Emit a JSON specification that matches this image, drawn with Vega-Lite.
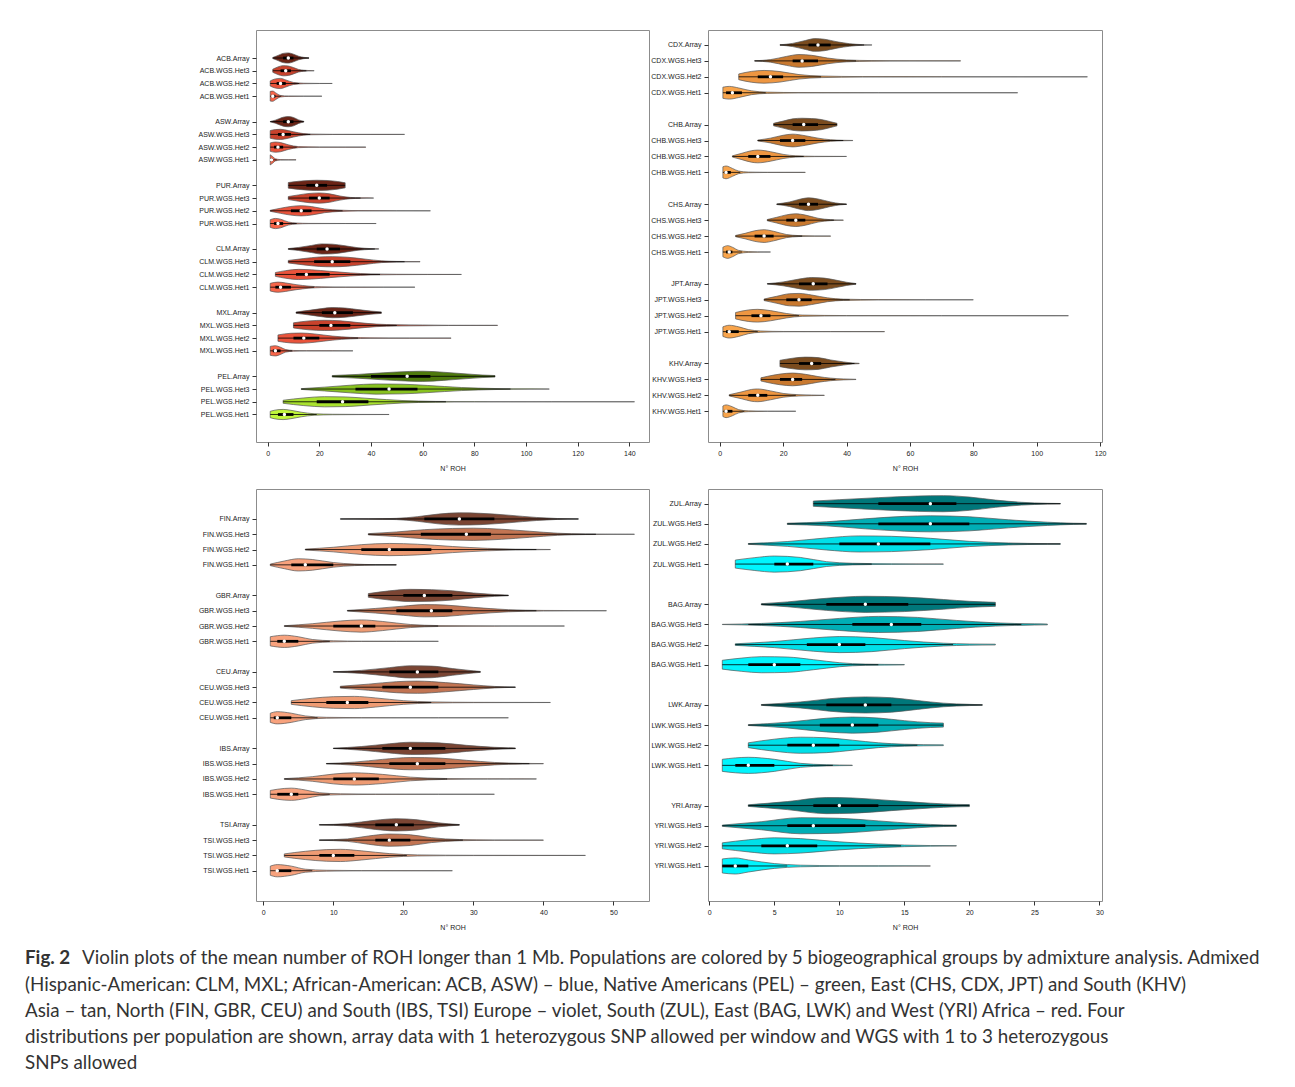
{
"$schema":"https://vega.github.io/schema/vega-lite/v6.json",
"padding":{"left":25,"top":29,"right":5,"bottom":5},
"background":"white",
"config":{"view":{"stroke":"#8c8c8c","strokeWidth":1},
"axis":{"labelFont":"Liberation Sans","labelFontSize":7,"labelColor":"#222","tickColor":"#333","tickSize":4,"domain":false,"grid":false,"titleFont":"Liberation Sans","titleFontSize":7,"titleFontWeight":"normal","titleColor":"#222","labelOverlap":false},
"axisX":{"labelPadding":3,"titlePadding":8},
"axisY":{"labelPadding":3,"labelOverlap":false,"tickCount":100}},
"title":{"text":"Fig. 2","subtitle":["\u200b\u00a0\u00a0\u00a0\u00a0\u00a0\u00a0\u00a0\u00a0\u00a0\u00a0\u00a0\u00a0Violin plots of the mean number of ROH longer than 1 Mb. Populations are colored by 5 biogeographical groups by admixture analysis. Admixed","(Hispanic-American: CLM, MXL; African-American: ACB, ASW) – blue, Native Americans (PEL) – green, East (CHS, CDX, JPT) and South (KHV)","Asia – tan, North (FIN, GBR, CEU) and South (IBS, TSI) Europe – violet, South (ZUL), East (BAG, LWK) and West (YRI) Africa – red. Four","distributions per population are shown, array data with 1 heterozygous SNP allowed per window and WGS with 1 to 3 heterozygous","SNPs allowed"],
"orient":"bottom","anchor":"start","frame":"group","offset":18,"dx":-231,"font":"Lato","fontSize":18.8,"fontWeight":"bold","color":"#333","subtitleFont":"Lato","subtitleFontSize":18.8,"subtitleFontWeight":"normal","subtitleColor":"#333","subtitleLineHeight":26.3,"subtitlePadding":-18},
"datasets":{
"st":[
{"v":"ACB.Array","p":1,"s":0,"c":"Adm Array","wl":2,"q1":6,"md":8,"q3":10,"wh":16},
{"v":"ACB.WGS.Het3","p":1,"s":1,"c":"Adm Het3","wl":2,"q1":5,"md":7,"q3":9,"wh":15},
{"v":"ACB.WGS.Het2","p":1,"s":2,"c":"Adm Het2","wl":1,"q1":3.5,"md":5,"q3":7,"wh":12.25},
{"v":"ACB.WGS.Het1","p":1,"s":3,"c":"Adm Het1","wl":1,"q1":1.5,"md":2,"q3":3,"wh":5.25},
{"v":"ASW.Array","p":1,"s":5,"c":"Adm Array","wl":1,"q1":6,"md":8,"q3":10,"wh":14},
{"v":"ASW.WGS.Het3","p":1,"s":6,"c":"Adm Het3","wl":1,"q1":4,"md":6,"q3":9,"wh":16.5},
{"v":"ASW.WGS.Het2","p":1,"s":7,"c":"Adm Het2","wl":1,"q1":2.5,"md":4,"q3":6,"wh":11.25},
{"v":"ASW.WGS.Het1","p":1,"s":8,"c":"Adm Het1","wl":1,"q1":1,"md":1.5,"q3":2,"wh":3.5},
{"v":"PUR.Array","p":1,"s":10,"c":"Adm Array","wl":8,"q1":15,"md":19,"q3":23,"wh":30},
{"v":"PUR.WGS.Het3","p":1,"s":11,"c":"Adm Het3","wl":8,"q1":16,"md":20,"q3":24,"wh":36},
{"v":"PUR.WGS.Het2","p":1,"s":12,"c":"Adm Het2","wl":1,"q1":9,"md":13,"q3":17,"wh":29},
{"v":"PUR.WGS.Het1","p":1,"s":13,"c":"Adm Het1","wl":1,"q1":2.5,"md":4,"q3":6,"wh":11.25},
{"v":"CLM.Array","p":1,"s":15,"c":"Adm Array","wl":8,"q1":19,"md":23,"q3":28,"wh":41.5},
{"v":"CLM.WGS.Het3","p":1,"s":16,"c":"Adm Het3","wl":8,"q1":18,"md":25,"q3":32,"wh":53},
{"v":"CLM.WGS.Het2","p":1,"s":17,"c":"Adm Het2","wl":3,"q1":11,"md":15,"q3":24,"wh":43.5},
{"v":"CLM.WGS.Het1","p":1,"s":18,"c":"Adm Het1","wl":1,"q1":3,"md":5,"q3":9,"wh":18},
{"v":"MXL.Array","p":1,"s":20,"c":"Adm Array","wl":11,"q1":21,"md":26,"q3":33,"wh":44},
{"v":"MXL.WGS.Het3","p":1,"s":21,"c":"Adm Het3","wl":10,"q1":20,"md":24.5,"q3":32,"wh":50},
{"v":"MXL.WGS.Het2","p":1,"s":22,"c":"Adm Het2","wl":4,"q1":10,"md":14,"q3":20,"wh":35},
{"v":"MXL.WGS.Het1","p":1,"s":23,"c":"Adm Het1","wl":1,"q1":2,"md":3,"q3":5,"wh":9.5},
{"v":"PEL.Array","p":1,"s":25,"c":"PEL Array","wl":25,"q1":40,"md":54,"q3":63,"wh":88},
{"v":"PEL.WGS.Het3","p":1,"s":26,"c":"PEL Het3","wl":13,"q1":34,"md":47,"q3":58,"wh":94},
{"v":"PEL.WGS.Het2","p":1,"s":27,"c":"PEL Het2","wl":6,"q1":19,"md":29,"q3":39,"wh":69},
{"v":"PEL.WGS.Het1","p":1,"s":28,"c":"PEL Het1","wl":1,"q1":4,"md":6.5,"q3":10,"wh":19},
{"v":"CDX.Array","p":2,"s":0,"c":"Asia Array","wl":19,"q1":28,"md":31,"q3":35,"wh":45.5},
{"v":"CDX.WGS.Het3","p":2,"s":1,"c":"Asia Het3","wl":11,"q1":23,"md":26,"q3":31,"wh":43},
{"v":"CDX.WGS.Het2","p":2,"s":2,"c":"Asia Het2","wl":6,"q1":12,"md":16,"q3":20,"wh":32},
{"v":"CDX.WGS.Het1","p":2,"s":3,"c":"Asia Het1","wl":1,"q1":2,"md":4,"q3":7,"wh":14.5},
{"v":"CHB.Array","p":2,"s":5,"c":"Asia Array","wl":17,"q1":23,"md":26.5,"q3":31,"wh":37},
{"v":"CHB.WGS.Het3","p":2,"s":6,"c":"Asia Het3","wl":12,"q1":19,"md":23,"q3":27,"wh":39},
{"v":"CHB.WGS.Het2","p":2,"s":7,"c":"Asia Het2","wl":4,"q1":9,"md":12,"q3":16,"wh":26.5},
{"v":"CHB.WGS.Het1","p":2,"s":8,"c":"Asia Het1","wl":1,"q1":1.5,"md":2,"q3":3.5,"wh":6.5},
{"v":"CHS.Array","p":2,"s":10,"c":"Asia Array","wl":18,"q1":25,"md":28,"q3":31,"wh":40},
{"v":"CHS.WGS.Het3","p":2,"s":11,"c":"Asia Het3","wl":15,"q1":21,"md":24,"q3":27,"wh":36},
{"v":"CHS.WGS.Het2","p":2,"s":12,"c":"Asia Het2","wl":5,"q1":11,"md":14,"q3":17,"wh":26},
{"v":"CHS.WGS.Het1","p":2,"s":13,"c":"Asia Het1","wl":1,"q1":2,"md":3,"q3":4,"wh":7},
{"v":"JPT.Array","p":2,"s":15,"c":"Asia Array","wl":15,"q1":25,"md":29.5,"q3":34,"wh":43},
{"v":"JPT.WGS.Het3","p":2,"s":16,"c":"Asia Het3","wl":14,"q1":21,"md":25,"q3":29,"wh":41},
{"v":"JPT.WGS.Het2","p":2,"s":17,"c":"Asia Het2","wl":5,"q1":10,"md":13,"q3":16,"wh":25},
{"v":"JPT.WGS.Het1","p":2,"s":18,"c":"Asia Het1","wl":1,"q1":2,"md":3,"q3":6,"wh":12},
{"v":"KHV.Array","p":2,"s":20,"c":"Asia Array","wl":19,"q1":25,"md":29,"q3":32,"wh":42.5},
{"v":"KHV.WGS.Het3","p":2,"s":21,"c":"Asia Het3","wl":13,"q1":19,"md":23,"q3":26,"wh":36.5},
{"v":"KHV.WGS.Het2","p":2,"s":22,"c":"Asia Het2","wl":3,"q1":9,"md":12,"q3":15,"wh":24},
{"v":"KHV.WGS.Het1","p":2,"s":23,"c":"Asia Het1","wl":1,"q1":1.5,"md":2,"q3":4,"wh":7.75},
{"v":"FIN.Array","p":3,"s":0,"c":"Eur Array","wl":11,"q1":23,"md":28,"q3":33,"wh":45},
{"v":"FIN.WGS.Het3","p":3,"s":1,"c":"Eur Het3","wl":15,"q1":22.5,"md":29,"q3":32.5,"wh":47.5},
{"v":"FIN.WGS.Het2","p":3,"s":2,"c":"Eur Het2","wl":6,"q1":14,"md":18,"q3":24,"wh":39},
{"v":"FIN.WGS.Het1","p":3,"s":3,"c":"Eur Het1","wl":1,"q1":4,"md":6,"q3":10,"wh":19},
{"v":"GBR.Array","p":3,"s":5,"c":"Eur Array","wl":15,"q1":20,"md":23,"q3":27,"wh":35},
{"v":"GBR.WGS.Het3","p":3,"s":6,"c":"Eur Het3","wl":12,"q1":19,"md":24,"q3":27,"wh":39},
{"v":"GBR.WGS.Het2","p":3,"s":7,"c":"Eur Het2","wl":3,"q1":10,"md":14,"q3":16,"wh":25},
{"v":"GBR.WGS.Het1","p":3,"s":8,"c":"Eur Het1","wl":1,"q1":2,"md":3,"q3":5,"wh":9.5},
{"v":"CEU.Array","p":3,"s":10,"c":"Eur Array","wl":10,"q1":18,"md":22,"q3":25,"wh":31},
{"v":"CEU.WGS.Het3","p":3,"s":11,"c":"Eur Het3","wl":11,"q1":17,"md":21,"q3":25,"wh":36},
{"v":"CEU.WGS.Het2","p":3,"s":12,"c":"Eur Het2","wl":4,"q1":9,"md":12,"q3":15,"wh":24},
{"v":"CEU.WGS.Het1","p":3,"s":13,"c":"Eur Het1","wl":1,"q1":1.5,"md":2,"q3":4,"wh":7.75},
{"v":"IBS.Array","p":3,"s":15,"c":"Eur Array","wl":10,"q1":17,"md":21,"q3":26,"wh":36},
{"v":"IBS.WGS.Het3","p":3,"s":16,"c":"Eur Het3","wl":9,"q1":18,"md":22,"q3":26,"wh":38},
{"v":"IBS.WGS.Het2","p":3,"s":17,"c":"Eur Het2","wl":3,"q1":10,"md":13,"q3":16.5,"wh":26.25},
{"v":"IBS.WGS.Het1","p":3,"s":18,"c":"Eur Het1","wl":1,"q1":2,"md":4,"q3":5,"wh":9.5},
{"v":"TSI.Array","p":3,"s":20,"c":"Eur Array","wl":8,"q1":16,"md":19,"q3":21.5,"wh":28},
{"v":"TSI.WGS.Het3","p":3,"s":21,"c":"Eur Het3","wl":8,"q1":16,"md":18,"q3":21,"wh":28.5},
{"v":"TSI.WGS.Het2","p":3,"s":22,"c":"Eur Het2","wl":3,"q1":8,"md":10,"q3":13,"wh":20.5},
{"v":"TSI.WGS.Het1","p":3,"s":23,"c":"Eur Het1","wl":1,"q1":2,"md":2,"q3":4,"wh":7},
{"v":"ZUL.Array","p":4,"s":0,"c":"Afr Array","wl":8,"q1":13,"md":17,"q3":19,"wh":27},
{"v":"ZUL.WGS.Het3","p":4,"s":1,"c":"Afr Het3","wl":6,"q1":13,"md":17,"q3":20,"wh":29},
{"v":"ZUL.WGS.Het2","p":4,"s":2,"c":"Afr Het2","wl":3,"q1":10,"md":13,"q3":17,"wh":27},
{"v":"ZUL.WGS.Het1","p":4,"s":3,"c":"Afr Het1","wl":2,"q1":5,"md":6,"q3":8,"wh":12.5},
{"v":"BAG.Array","p":4,"s":5,"c":"Afr Array","wl":4,"q1":9,"md":12,"q3":15.3,"wh":22},
{"v":"BAG.WGS.Het3","p":4,"s":6,"c":"Afr Het3","wl":3,"q1":11,"md":14,"q3":16.3,"wh":24},
{"v":"BAG.WGS.Het2","p":4,"s":7,"c":"Afr Het2","wl":2,"q1":7.5,"md":10,"q3":12,"wh":18.75},
{"v":"BAG.WGS.Het1","p":4,"s":8,"c":"Afr Het1","wl":1,"q1":3,"md":5,"q3":7,"wh":13},
{"v":"LWK.Array","p":4,"s":10,"c":"Afr Array","wl":4,"q1":9,"md":12,"q3":14,"wh":21},
{"v":"LWK.WGS.Het3","p":4,"s":11,"c":"Afr Het3","wl":3,"q1":8.5,"md":11,"q3":13,"wh":18},
{"v":"LWK.WGS.Het2","p":4,"s":12,"c":"Afr Het2","wl":3,"q1":6,"md":8,"q3":10,"wh":16},
{"v":"LWK.WGS.Het1","p":4,"s":13,"c":"Afr Het1","wl":1,"q1":2,"md":3,"q3":5,"wh":9.5},
{"v":"YRI.Array","p":4,"s":15,"c":"Afr Array","wl":3,"q1":8,"md":10,"q3":13,"wh":20},
{"v":"YRI.WGS.Het3","p":4,"s":16,"c":"Afr Het3","wl":1,"q1":6,"md":8,"q3":12,"wh":19},
{"v":"YRI.WGS.Het2","p":4,"s":17,"c":"Afr Het2","wl":1,"q1":4,"md":6,"q3":8.3,"wh":14.75},
{"v":"YRI.WGS.Het1","p":4,"s":18,"c":"Afr Het1","wl":1,"q1":1,"md":2,"q3":3,"wh":6}
],
"sh":[
{"v":"ACB.Array","x":2,"d":0.04},{"v":"ACB.Array","x":4,"d":0.2},{"v":"ACB.Array","x":6,"d":0.36},{"v":"ACB.Array","x":8,"d":0.4},{"v":"ACB.Array","x":10,"d":0.3},{"v":"ACB.Array","x":12,"d":0.14},{"v":"ACB.Array","x":14,"d":0.05},{"v":"ACB.Array","x":16,"d":0.01},
{"v":"ACB.WGS.Het3","x":2,"d":0.12},{"v":"ACB.WGS.Het3","x":4,"d":0.3},{"v":"ACB.WGS.Het3","x":6,"d":0.4},{"v":"ACB.WGS.Het3","x":8,"d":0.37},{"v":"ACB.WGS.Het3","x":10,"d":0.25},{"v":"ACB.WGS.Het3","x":12,"d":0.1},{"v":"ACB.WGS.Het3","x":14,"d":0.04},{"v":"ACB.WGS.Het3","x":16,"d":0.015},{"v":"ACB.WGS.Het3","x":18,"d":0.005},
{"v":"ACB.WGS.Het2","x":1,"d":0.2},{"v":"ACB.WGS.Het2","x":3,"d":0.36},{"v":"ACB.WGS.Het2","x":5,"d":0.4},{"v":"ACB.WGS.Het2","x":7,"d":0.28},{"v":"ACB.WGS.Het2","x":10,"d":0.08},{"v":"ACB.WGS.Het2","x":14,"d":0.02},{"v":"ACB.WGS.Het2","x":20,"d":0.005},{"v":"ACB.WGS.Het2","x":25,"d":0.002},
{"v":"ACB.WGS.Het1","x":1,"d":0.38},{"v":"ACB.WGS.Het1","x":2,"d":0.4},{"v":"ACB.WGS.Het1","x":3,"d":0.28},{"v":"ACB.WGS.Het1","x":5,"d":0.06},{"v":"ACB.WGS.Het1","x":8,"d":0.015},{"v":"ACB.WGS.Het1","x":14,"d":0.005},{"v":"ACB.WGS.Het1","x":21,"d":0.002},
{"v":"ASW.Array","x":1,"d":0.01},{"v":"ASW.Array","x":3,"d":0.12},{"v":"ASW.Array","x":6,"d":0.35},{"v":"ASW.Array","x":8,"d":0.4},{"v":"ASW.Array","x":10,"d":0.33},{"v":"ASW.Array","x":12,"d":0.14},{"v":"ASW.Array","x":14,"d":0.03},
{"v":"ASW.WGS.Het3","x":1,"d":0.3},{"v":"ASW.WGS.Het3","x":3,"d":0.38},{"v":"ASW.WGS.Het3","x":5,"d":0.4},{"v":"ASW.WGS.Het3","x":8,"d":0.3},{"v":"ASW.WGS.Het3","x":12,"d":0.12},{"v":"ASW.WGS.Het3","x":16,"d":0.03},{"v":"ASW.WGS.Het3","x":25,"d":0.008},{"v":"ASW.WGS.Het3","x":40,"d":0.003},{"v":"ASW.WGS.Het3","x":53,"d":0.002},
{"v":"ASW.WGS.Het2","x":1,"d":0.33},{"v":"ASW.WGS.Het2","x":3,"d":0.4},{"v":"ASW.WGS.Het2","x":5,"d":0.36},{"v":"ASW.WGS.Het2","x":8,"d":0.18},{"v":"ASW.WGS.Het2","x":12,"d":0.04},{"v":"ASW.WGS.Het2","x":20,"d":0.008},{"v":"ASW.WGS.Het2","x":30,"d":0.003},{"v":"ASW.WGS.Het2","x":38,"d":0.002},
{"v":"ASW.WGS.Het1","x":1,"d":0.4},{"v":"ASW.WGS.Het1","x":2,"d":0.25},{"v":"ASW.WGS.Het1","x":3,"d":0.08},{"v":"ASW.WGS.Het1","x":5,"d":0.02},{"v":"ASW.WGS.Het1","x":8,"d":0.005},{"v":"ASW.WGS.Het1","x":11,"d":0.002},
{"v":"PUR.Array","x":8,"d":0.22},{"v":"PUR.Array","x":12,"d":0.32},{"v":"PUR.Array","x":16,"d":0.38},{"v":"PUR.Array","x":19,"d":0.4},{"v":"PUR.Array","x":23,"d":0.38},{"v":"PUR.Array","x":27,"d":0.3},{"v":"PUR.Array","x":30,"d":0.2},
{"v":"PUR.WGS.Het3","x":8,"d":0.12},{"v":"PUR.WGS.Het3","x":12,"d":0.25},{"v":"PUR.WGS.Het3","x":16,"d":0.36},{"v":"PUR.WGS.Het3","x":20,"d":0.4},{"v":"PUR.WGS.Het3","x":24,"d":0.33},{"v":"PUR.WGS.Het3","x":28,"d":0.16},{"v":"PUR.WGS.Het3","x":32,"d":0.05},{"v":"PUR.WGS.Het3","x":36,"d":0.02},{"v":"PUR.WGS.Het3","x":41,"d":0.005},
{"v":"PUR.WGS.Het2","x":1,"d":0.04},{"v":"PUR.WGS.Het2","x":5,"d":0.2},{"v":"PUR.WGS.Het2","x":9,"d":0.34},{"v":"PUR.WGS.Het2","x":13,"d":0.4},{"v":"PUR.WGS.Het2","x":17,"d":0.33},{"v":"PUR.WGS.Het2","x":22,"d":0.15},{"v":"PUR.WGS.Het2","x":28,"d":0.05},{"v":"PUR.WGS.Het2","x":35,"d":0.015},{"v":"PUR.WGS.Het2","x":50,"d":0.004},{"v":"PUR.WGS.Het2","x":63,"d":0.002},
{"v":"PUR.WGS.Het1","x":1,"d":0.3},{"v":"PUR.WGS.Het1","x":3,"d":0.4},{"v":"PUR.WGS.Het1","x":5,"d":0.34},{"v":"PUR.WGS.Het1","x":8,"d":0.12},{"v":"PUR.WGS.Het1","x":11,"d":0.04},{"v":"PUR.WGS.Het1","x":16,"d":0.01},{"v":"PUR.WGS.Het1","x":30,"d":0.003},{"v":"PUR.WGS.Het1","x":42,"d":0.002},
{"v":"CLM.Array","x":8,"d":0.03},{"v":"CLM.Array","x":12,"d":0.12},{"v":"CLM.Array","x":17,"d":0.28},{"v":"CLM.Array","x":21,"d":0.4},{"v":"CLM.Array","x":25,"d":0.38},{"v":"CLM.Array","x":30,"d":0.25},{"v":"CLM.Array","x":35,"d":0.1},{"v":"CLM.Array","x":40,"d":0.03},{"v":"CLM.Array","x":43,"d":0.01},
{"v":"CLM.WGS.Het3","x":8,"d":0.1},{"v":"CLM.WGS.Het3","x":14,"d":0.25},{"v":"CLM.WGS.Het3","x":20,"d":0.37},{"v":"CLM.WGS.Het3","x":25,"d":0.4},{"v":"CLM.WGS.Het3","x":31,"d":0.35},{"v":"CLM.WGS.Het3","x":38,"d":0.2},{"v":"CLM.WGS.Het3","x":44,"d":0.07},{"v":"CLM.WGS.Het3","x":50,"d":0.025},{"v":"CLM.WGS.Het3","x":59,"d":0.008},
{"v":"CLM.WGS.Het2","x":3,"d":0.15},{"v":"CLM.WGS.Het2","x":7,"d":0.3},{"v":"CLM.WGS.Het2","x":12,"d":0.4},{"v":"CLM.WGS.Het2","x":17,"d":0.36},{"v":"CLM.WGS.Het2","x":24,"d":0.25},{"v":"CLM.WGS.Het2","x":32,"d":0.12},{"v":"CLM.WGS.Het2","x":40,"d":0.04},{"v":"CLM.WGS.Het2","x":50,"d":0.015},{"v":"CLM.WGS.Het2","x":62,"d":0.006},{"v":"CLM.WGS.Het2","x":75,"d":0.003},
{"v":"CLM.WGS.Het1","x":1,"d":0.3},{"v":"CLM.WGS.Het1","x":4,"d":0.4},{"v":"CLM.WGS.Het1","x":7,"d":0.33},{"v":"CLM.WGS.Het1","x":11,"d":0.2},{"v":"CLM.WGS.Het1","x":16,"d":0.08},{"v":"CLM.WGS.Het1","x":21,"d":0.03},{"v":"CLM.WGS.Het1","x":30,"d":0.01},{"v":"CLM.WGS.Het1","x":45,"d":0.004},{"v":"CLM.WGS.Het1","x":57,"d":0.002},
{"v":"MXL.Array","x":11,"d":0.05},{"v":"MXL.Array","x":16,"d":0.18},{"v":"MXL.Array","x":21,"d":0.32},{"v":"MXL.Array","x":25,"d":0.4},{"v":"MXL.Array","x":30,"d":0.36},{"v":"MXL.Array","x":35,"d":0.24},{"v":"MXL.Array","x":40,"d":0.12},{"v":"MXL.Array","x":44,"d":0.06},
{"v":"MXL.WGS.Het3","x":10,"d":0.2},{"v":"MXL.WGS.Het3","x":16,"d":0.35},{"v":"MXL.WGS.Het3","x":22,"d":0.4},{"v":"MXL.WGS.Het3","x":28,"d":0.36},{"v":"MXL.WGS.Het3","x":35,"d":0.22},{"v":"MXL.WGS.Het3","x":42,"d":0.1},{"v":"MXL.WGS.Het3","x":50,"d":0.05},{"v":"MXL.WGS.Het3","x":60,"d":0.03},{"v":"MXL.WGS.Het3","x":70,"d":0.01},{"v":"MXL.WGS.Het3","x":89,"d":0.003},
{"v":"MXL.WGS.Het2","x":4,"d":0.25},{"v":"MXL.WGS.Het2","x":9,"d":0.38},{"v":"MXL.WGS.Het2","x":13,"d":0.4},{"v":"MXL.WGS.Het2","x":18,"d":0.33},{"v":"MXL.WGS.Het2","x":25,"d":0.16},{"v":"MXL.WGS.Het2","x":32,"d":0.06},{"v":"MXL.WGS.Het2","x":40,"d":0.02},{"v":"MXL.WGS.Het2","x":55,"d":0.006},{"v":"MXL.WGS.Het2","x":71,"d":0.003},
{"v":"MXL.WGS.Het1","x":1,"d":0.35},{"v":"MXL.WGS.Het1","x":3,"d":0.4},{"v":"MXL.WGS.Het1","x":5,"d":0.28},{"v":"MXL.WGS.Het1","x":7,"d":0.1},{"v":"MXL.WGS.Het1","x":10,"d":0.03},{"v":"MXL.WGS.Het1","x":15,"d":0.01},{"v":"MXL.WGS.Het1","x":25,"d":0.004},{"v":"MXL.WGS.Het1","x":33,"d":0.002},
{"v":"PEL.Array","x":25,"d":0.06},{"v":"PEL.Array","x":35,"d":0.15},{"v":"PEL.Array","x":45,"d":0.28},{"v":"PEL.Array","x":55,"d":0.38},{"v":"PEL.Array","x":60,"d":0.4},{"v":"PEL.Array","x":68,"d":0.32},{"v":"PEL.Array","x":76,"d":0.2},{"v":"PEL.Array","x":83,"d":0.1},{"v":"PEL.Array","x":88,"d":0.06},
{"v":"PEL.WGS.Het3","x":13,"d":0.03},{"v":"PEL.WGS.Het3","x":22,"d":0.15},{"v":"PEL.WGS.Het3","x":32,"d":0.3},{"v":"PEL.WGS.Het3","x":42,"d":0.4},{"v":"PEL.WGS.Het3","x":52,"d":0.38},{"v":"PEL.WGS.Het3","x":62,"d":0.28},{"v":"PEL.WGS.Het3","x":75,"d":0.12},{"v":"PEL.WGS.Het3","x":88,"d":0.04},{"v":"PEL.WGS.Het3","x":95,"d":0.015},{"v":"PEL.WGS.Het3","x":109,"d":0.004},
{"v":"PEL.WGS.Het2","x":6,"d":0.12},{"v":"PEL.WGS.Het2","x":14,"d":0.3},{"v":"PEL.WGS.Het2","x":22,"d":0.4},{"v":"PEL.WGS.Het2","x":30,"d":0.38},{"v":"PEL.WGS.Het2","x":40,"d":0.25},{"v":"PEL.WGS.Het2","x":52,"d":0.1},{"v":"PEL.WGS.Het2","x":65,"d":0.03},{"v":"PEL.WGS.Het2","x":80,"d":0.01},{"v":"PEL.WGS.Het2","x":110,"d":0.004},{"v":"PEL.WGS.Het2","x":142,"d":0.002},
{"v":"PEL.WGS.Het1","x":1,"d":0.25},{"v":"PEL.WGS.Het1","x":4,"d":0.38},{"v":"PEL.WGS.Het1","x":6,"d":0.4},{"v":"PEL.WGS.Het1","x":9,"d":0.33},{"v":"PEL.WGS.Het1","x":13,"d":0.18},{"v":"PEL.WGS.Het1","x":18,"d":0.06},{"v":"PEL.WGS.Het1","x":25,"d":0.02},{"v":"PEL.WGS.Het1","x":35,"d":0.008},{"v":"PEL.WGS.Het1","x":47,"d":0.003},
{"v":"CDX.Array","x":19,"d":0.01},{"v":"CDX.Array","x":23,"d":0.1},{"v":"CDX.Array","x":27,"d":0.28},{"v":"CDX.Array","x":30,"d":0.4},{"v":"CDX.Array","x":33,"d":0.36},{"v":"CDX.Array","x":37,"d":0.2},{"v":"CDX.Array","x":41,"d":0.08},{"v":"CDX.Array","x":45,"d":0.02},{"v":"CDX.Array","x":48,"d":0.005},
{"v":"CDX.WGS.Het3","x":11,"d":0.01},{"v":"CDX.WGS.Het3","x":16,"d":0.08},{"v":"CDX.WGS.Het3","x":21,"d":0.28},{"v":"CDX.WGS.Het3","x":25,"d":0.4},{"v":"CDX.WGS.Het3","x":29,"d":0.35},{"v":"CDX.WGS.Het3","x":34,"d":0.18},{"v":"CDX.WGS.Het3","x":40,"d":0.06},{"v":"CDX.WGS.Het3","x":48,"d":0.02},{"v":"CDX.WGS.Het3","x":60,"d":0.006},{"v":"CDX.WGS.Het3","x":76,"d":0.002},
{"v":"CDX.WGS.Het2","x":6,"d":0.18},{"v":"CDX.WGS.Het2","x":10,"d":0.34},{"v":"CDX.WGS.Het2","x":14,"d":0.4},{"v":"CDX.WGS.Het2","x":19,"d":0.33},{"v":"CDX.WGS.Het2","x":25,"d":0.14},{"v":"CDX.WGS.Het2","x":32,"d":0.05},{"v":"CDX.WGS.Het2","x":45,"d":0.015},{"v":"CDX.WGS.Het2","x":70,"d":0.005},{"v":"CDX.WGS.Het2","x":116,"d":0.002},
{"v":"CDX.WGS.Het1","x":1,"d":0.35},{"v":"CDX.WGS.Het1","x":3,"d":0.4},{"v":"CDX.WGS.Het1","x":6,"d":0.3},{"v":"CDX.WGS.Het1","x":10,"d":0.12},{"v":"CDX.WGS.Het1","x":15,"d":0.04},{"v":"CDX.WGS.Het1","x":25,"d":0.01},{"v":"CDX.WGS.Het1","x":50,"d":0.003},{"v":"CDX.WGS.Het1","x":94,"d":0.002},
{"v":"CHB.Array","x":17,"d":0.08},{"v":"CHB.Array","x":20,"d":0.22},{"v":"CHB.Array","x":23,"d":0.36},{"v":"CHB.Array","x":26,"d":0.4},{"v":"CHB.Array","x":29,"d":0.38},{"v":"CHB.Array","x":32,"d":0.32},{"v":"CHB.Array","x":35,"d":0.18},{"v":"CHB.Array","x":37,"d":0.08},
{"v":"CHB.WGS.Het3","x":12,"d":0.03},{"v":"CHB.WGS.Het3","x":16,"d":0.15},{"v":"CHB.WGS.Het3","x":20,"d":0.33},{"v":"CHB.WGS.Het3","x":23,"d":0.4},{"v":"CHB.WGS.Het3","x":27,"d":0.3},{"v":"CHB.WGS.Het3","x":31,"d":0.15},{"v":"CHB.WGS.Het3","x":35,"d":0.05},{"v":"CHB.WGS.Het3","x":39,"d":0.015},{"v":"CHB.WGS.Het3","x":42,"d":0.005},
{"v":"CHB.WGS.Het2","x":4,"d":0.04},{"v":"CHB.WGS.Het2","x":7,"d":0.2},{"v":"CHB.WGS.Het2","x":10,"d":0.36},{"v":"CHB.WGS.Het2","x":12,"d":0.4},{"v":"CHB.WGS.Het2","x":16,"d":0.3},{"v":"CHB.WGS.Het2","x":20,"d":0.13},{"v":"CHB.WGS.Het2","x":24,"d":0.04},{"v":"CHB.WGS.Het2","x":30,"d":0.01},{"v":"CHB.WGS.Het2","x":40,"d":0.003},
{"v":"CHB.WGS.Het1","x":1,"d":0.35},{"v":"CHB.WGS.Het1","x":2,"d":0.4},{"v":"CHB.WGS.Het1","x":4,"d":0.25},{"v":"CHB.WGS.Het1","x":6,"d":0.08},{"v":"CHB.WGS.Het1","x":9,"d":0.02},{"v":"CHB.WGS.Het1","x":15,"d":0.005},{"v":"CHB.WGS.Het1","x":27,"d":0.002},
{"v":"CHS.Array","x":18,"d":0.02},{"v":"CHS.Array","x":22,"d":0.14},{"v":"CHS.Array","x":25,"d":0.3},{"v":"CHS.Array","x":28,"d":0.4},{"v":"CHS.Array","x":31,"d":0.33},{"v":"CHS.Array","x":35,"d":0.14},{"v":"CHS.Array","x":38,"d":0.04},{"v":"CHS.Array","x":40,"d":0.01},
{"v":"CHS.WGS.Het3","x":15,"d":0.04},{"v":"CHS.WGS.Het3","x":18,"d":0.18},{"v":"CHS.WGS.Het3","x":21,"d":0.33},{"v":"CHS.WGS.Het3","x":24,"d":0.4},{"v":"CHS.WGS.Het3","x":27,"d":0.32},{"v":"CHS.WGS.Het3","x":31,"d":0.12},{"v":"CHS.WGS.Het3","x":35,"d":0.03},{"v":"CHS.WGS.Het3","x":39,"d":0.005},
{"v":"CHS.WGS.Het2","x":5,"d":0.04},{"v":"CHS.WGS.Het2","x":8,"d":0.17},{"v":"CHS.WGS.Het2","x":11,"d":0.33},{"v":"CHS.WGS.Het2","x":14,"d":0.4},{"v":"CHS.WGS.Het2","x":17,"d":0.3},{"v":"CHS.WGS.Het2","x":21,"d":0.1},{"v":"CHS.WGS.Het2","x":25,"d":0.03},{"v":"CHS.WGS.Het2","x":30,"d":0.008},{"v":"CHS.WGS.Het2","x":35,"d":0.003},
{"v":"CHS.WGS.Het1","x":1,"d":0.3},{"v":"CHS.WGS.Het1","x":2.5,"d":0.4},{"v":"CHS.WGS.Het1","x":4,"d":0.3},{"v":"CHS.WGS.Het1","x":6,"d":0.1},{"v":"CHS.WGS.Het1","x":9,"d":0.025},{"v":"CHS.WGS.Het1","x":12,"d":0.008},{"v":"CHS.WGS.Het1","x":16,"d":0.003},
{"v":"JPT.Array","x":15,"d":0.01},{"v":"JPT.Array","x":20,"d":0.12},{"v":"JPT.Array","x":25,"d":0.3},{"v":"JPT.Array","x":29,"d":0.4},{"v":"JPT.Array","x":33,"d":0.36},{"v":"JPT.Array","x":37,"d":0.22},{"v":"JPT.Array","x":40,"d":0.1},{"v":"JPT.Array","x":43,"d":0.02},
{"v":"JPT.WGS.Het3","x":14,"d":0.05},{"v":"JPT.WGS.Het3","x":18,"d":0.22},{"v":"JPT.WGS.Het3","x":22,"d":0.38},{"v":"JPT.WGS.Het3","x":25,"d":0.4},{"v":"JPT.WGS.Het3","x":29,"d":0.3},{"v":"JPT.WGS.Het3","x":34,"d":0.12},{"v":"JPT.WGS.Het3","x":39,"d":0.04},{"v":"JPT.WGS.Het3","x":50,"d":0.01},{"v":"JPT.WGS.Het3","x":65,"d":0.004},{"v":"JPT.WGS.Het3","x":80,"d":0.002},
{"v":"JPT.WGS.Het2","x":5,"d":0.2},{"v":"JPT.WGS.Het2","x":9,"d":0.36},{"v":"JPT.WGS.Het2","x":12,"d":0.4},{"v":"JPT.WGS.Het2","x":16,"d":0.32},{"v":"JPT.WGS.Het2","x":21,"d":0.14},{"v":"JPT.WGS.Het2","x":26,"d":0.04},{"v":"JPT.WGS.Het2","x":40,"d":0.01},{"v":"JPT.WGS.Het2","x":70,"d":0.004},{"v":"JPT.WGS.Het2","x":110,"d":0.002},
{"v":"JPT.WGS.Het1","x":1,"d":0.3},{"v":"JPT.WGS.Het1","x":3,"d":0.4},{"v":"JPT.WGS.Het1","x":6,"d":0.3},{"v":"JPT.WGS.Het1","x":9,"d":0.13},{"v":"JPT.WGS.Het1","x":13,"d":0.04},{"v":"JPT.WGS.Het1","x":20,"d":0.01},{"v":"JPT.WGS.Het1","x":35,"d":0.004},{"v":"JPT.WGS.Het1","x":52,"d":0.002},
{"v":"KHV.Array","x":19,"d":0.2},{"v":"KHV.Array","x":23,"d":0.33},{"v":"KHV.Array","x":27,"d":0.4},{"v":"KHV.Array","x":31,"d":0.37},{"v":"KHV.Array","x":35,"d":0.22},{"v":"KHV.Array","x":39,"d":0.1},{"v":"KHV.Array","x":42,"d":0.03},{"v":"KHV.Array","x":44,"d":0.01},
{"v":"KHV.WGS.Het3","x":13,"d":0.1},{"v":"KHV.WGS.Het3","x":17,"d":0.27},{"v":"KHV.WGS.Het3","x":21,"d":0.38},{"v":"KHV.WGS.Het3","x":23,"d":0.4},{"v":"KHV.WGS.Het3","x":27,"d":0.32},{"v":"KHV.WGS.Het3","x":31,"d":0.18},{"v":"KHV.WGS.Het3","x":35,"d":0.08},{"v":"KHV.WGS.Het3","x":39,"d":0.03},{"v":"KHV.WGS.Het3","x":43,"d":0.008},
{"v":"KHV.WGS.Het2","x":3,"d":0.04},{"v":"KHV.WGS.Het2","x":7,"d":0.22},{"v":"KHV.WGS.Het2","x":10,"d":0.37},{"v":"KHV.WGS.Het2","x":12,"d":0.4},{"v":"KHV.WGS.Het2","x":16,"d":0.28},{"v":"KHV.WGS.Het2","x":20,"d":0.12},{"v":"KHV.WGS.Het2","x":25,"d":0.04},{"v":"KHV.WGS.Het2","x":29,"d":0.02},{"v":"KHV.WGS.Het2","x":33,"d":0.006},
{"v":"KHV.WGS.Het1","x":1,"d":0.33},{"v":"KHV.WGS.Het1","x":2,"d":0.4},{"v":"KHV.WGS.Het1","x":4,"d":0.28},{"v":"KHV.WGS.Het1","x":6,"d":0.1},{"v":"KHV.WGS.Het1","x":9,"d":0.025},{"v":"KHV.WGS.Het1","x":15,"d":0.006},{"v":"KHV.WGS.Het1","x":24,"d":0.002},
{"v":"FIN.Array","x":11,"d":0.005},{"v":"FIN.Array","x":15,"d":0.01},{"v":"FIN.Array","x":19,"d":0.04},{"v":"FIN.Array","x":22,"d":0.15},{"v":"FIN.Array","x":25,"d":0.32},{"v":"FIN.Array","x":28,"d":0.4},{"v":"FIN.Array","x":31,"d":0.37},{"v":"FIN.Array","x":35,"d":0.25},{"v":"FIN.Array","x":39,"d":0.1},{"v":"FIN.Array","x":42,"d":0.03},{"v":"FIN.Array","x":45,"d":0.005},
{"v":"FIN.WGS.Het3","x":15,"d":0.04},{"v":"FIN.WGS.Het3","x":19,"d":0.15},{"v":"FIN.WGS.Het3","x":23,"d":0.3},{"v":"FIN.WGS.Het3","x":27,"d":0.38},{"v":"FIN.WGS.Het3","x":30,"d":0.4},{"v":"FIN.WGS.Het3","x":34,"d":0.33},{"v":"FIN.WGS.Het3","x":38,"d":0.2},{"v":"FIN.WGS.Het3","x":42,"d":0.07},{"v":"FIN.WGS.Het3","x":46,"d":0.02},{"v":"FIN.WGS.Het3","x":53,"d":0.005},
{"v":"FIN.WGS.Het2","x":6,"d":0.03},{"v":"FIN.WGS.Het2","x":10,"d":0.15},{"v":"FIN.WGS.Het2","x":14,"d":0.32},{"v":"FIN.WGS.Het2","x":18,"d":0.4},{"v":"FIN.WGS.Het2","x":22,"d":0.35},{"v":"FIN.WGS.Het2","x":27,"d":0.2},{"v":"FIN.WGS.Het2","x":32,"d":0.08},{"v":"FIN.WGS.Het2","x":36,"d":0.025},{"v":"FIN.WGS.Het2","x":41,"d":0.005},
{"v":"FIN.WGS.Het1","x":1,"d":0.05},{"v":"FIN.WGS.Het1","x":3,"d":0.25},{"v":"FIN.WGS.Het1","x":5,"d":0.4},{"v":"FIN.WGS.Het1","x":7,"d":0.35},{"v":"FIN.WGS.Het1","x":10,"d":0.15},{"v":"FIN.WGS.Het1","x":13,"d":0.05},{"v":"FIN.WGS.Het1","x":16,"d":0.015},{"v":"FIN.WGS.Het1","x":19,"d":0.004},
{"v":"GBR.Array","x":15,"d":0.12},{"v":"GBR.Array","x":18,"d":0.3},{"v":"GBR.Array","x":21,"d":0.4},{"v":"GBR.Array","x":24,"d":0.38},{"v":"GBR.Array","x":27,"d":0.3},{"v":"GBR.Array","x":30,"d":0.16},{"v":"GBR.Array","x":33,"d":0.06},{"v":"GBR.Array","x":35,"d":0.02},
{"v":"GBR.WGS.Het3","x":12,"d":0.02},{"v":"GBR.WGS.Het3","x":16,"d":0.15},{"v":"GBR.WGS.Het3","x":20,"d":0.3},{"v":"GBR.WGS.Het3","x":23,"d":0.4},{"v":"GBR.WGS.Het3","x":26,"d":0.37},{"v":"GBR.WGS.Het3","x":30,"d":0.22},{"v":"GBR.WGS.Het3","x":35,"d":0.07},{"v":"GBR.WGS.Het3","x":40,"d":0.02},{"v":"GBR.WGS.Het3","x":49,"d":0.005},
{"v":"GBR.WGS.Het2","x":3,"d":0.02},{"v":"GBR.WGS.Het2","x":7,"d":0.15},{"v":"GBR.WGS.Het2","x":11,"d":0.33},{"v":"GBR.WGS.Het2","x":14,"d":0.4},{"v":"GBR.WGS.Het2","x":17,"d":0.3},{"v":"GBR.WGS.Het2","x":21,"d":0.1},{"v":"GBR.WGS.Het2","x":25,"d":0.03},{"v":"GBR.WGS.Het2","x":33,"d":0.008},{"v":"GBR.WGS.Het2","x":43,"d":0.003},
{"v":"GBR.WGS.Het1","x":1,"d":0.3},{"v":"GBR.WGS.Het1","x":3,"d":0.4},{"v":"GBR.WGS.Het1","x":5,"d":0.3},{"v":"GBR.WGS.Het1","x":7,"d":0.12},{"v":"GBR.WGS.Het1","x":10,"d":0.035},{"v":"GBR.WGS.Het1","x":14,"d":0.01},{"v":"GBR.WGS.Het1","x":19,"d":0.004},{"v":"GBR.WGS.Het1","x":25,"d":0.002},
{"v":"CEU.Array","x":10,"d":0.01},{"v":"CEU.Array","x":14,"d":0.1},{"v":"CEU.Array","x":18,"d":0.28},{"v":"CEU.Array","x":21,"d":0.4},{"v":"CEU.Array","x":24,"d":0.38},{"v":"CEU.Array","x":27,"d":0.22},{"v":"CEU.Array","x":30,"d":0.07},{"v":"CEU.Array","x":31,"d":0.03},
{"v":"CEU.WGS.Het3","x":11,"d":0.06},{"v":"CEU.WGS.Het3","x":15,"d":0.2},{"v":"CEU.WGS.Het3","x":19,"d":0.36},{"v":"CEU.WGS.Het3","x":22,"d":0.4},{"v":"CEU.WGS.Het3","x":26,"d":0.3},{"v":"CEU.WGS.Het3","x":30,"d":0.15},{"v":"CEU.WGS.Het3","x":33,"d":0.05},{"v":"CEU.WGS.Het3","x":36,"d":0.01},
{"v":"CEU.WGS.Het2","x":4,"d":0.12},{"v":"CEU.WGS.Het2","x":7,"d":0.28},{"v":"CEU.WGS.Het2","x":10,"d":0.38},{"v":"CEU.WGS.Het2","x":13,"d":0.4},{"v":"CEU.WGS.Het2","x":16,"d":0.3},{"v":"CEU.WGS.Het2","x":20,"d":0.12},{"v":"CEU.WGS.Het2","x":24,"d":0.04},{"v":"CEU.WGS.Het2","x":30,"d":0.01},{"v":"CEU.WGS.Het2","x":41,"d":0.003},
{"v":"CEU.WGS.Het1","x":1,"d":0.3},{"v":"CEU.WGS.Het1","x":2,"d":0.4},{"v":"CEU.WGS.Het1","x":4,"d":0.3},{"v":"CEU.WGS.Het1","x":6,"d":0.12},{"v":"CEU.WGS.Het1","x":9,"d":0.03},{"v":"CEU.WGS.Het1","x":14,"d":0.008},{"v":"CEU.WGS.Het1","x":25,"d":0.003},{"v":"CEU.WGS.Het1","x":35,"d":0.002},
{"v":"IBS.Array","x":10,"d":0.01},{"v":"IBS.Array","x":14,"d":0.12},{"v":"IBS.Array","x":18,"d":0.3},{"v":"IBS.Array","x":21,"d":0.4},{"v":"IBS.Array","x":25,"d":0.36},{"v":"IBS.Array","x":29,"d":0.2},{"v":"IBS.Array","x":33,"d":0.07},{"v":"IBS.Array","x":36,"d":0.02},
{"v":"IBS.WGS.Het3","x":9,"d":0.01},{"v":"IBS.WGS.Het3","x":13,"d":0.1},{"v":"IBS.WGS.Het3","x":17,"d":0.28},{"v":"IBS.WGS.Het3","x":21,"d":0.4},{"v":"IBS.WGS.Het3","x":25,"d":0.37},{"v":"IBS.WGS.Het3","x":29,"d":0.22},{"v":"IBS.WGS.Het3","x":33,"d":0.08},{"v":"IBS.WGS.Het3","x":37,"d":0.02},{"v":"IBS.WGS.Het3","x":40,"d":0.006},
{"v":"IBS.WGS.Het2","x":3,"d":0.02},{"v":"IBS.WGS.Het2","x":7,"d":0.15},{"v":"IBS.WGS.Het2","x":10,"d":0.32},{"v":"IBS.WGS.Het2","x":13,"d":0.4},{"v":"IBS.WGS.Het2","x":17,"d":0.3},{"v":"IBS.WGS.Het2","x":21,"d":0.12},{"v":"IBS.WGS.Het2","x":26,"d":0.03},{"v":"IBS.WGS.Het2","x":32,"d":0.01},{"v":"IBS.WGS.Het2","x":39,"d":0.003},
{"v":"IBS.WGS.Het1","x":1,"d":0.25},{"v":"IBS.WGS.Het1","x":3,"d":0.38},{"v":"IBS.WGS.Het1","x":4,"d":0.4},{"v":"IBS.WGS.Het1","x":6,"d":0.28},{"v":"IBS.WGS.Het1","x":8,"d":0.1},{"v":"IBS.WGS.Het1","x":11,"d":0.03},{"v":"IBS.WGS.Het1","x":16,"d":0.01},{"v":"IBS.WGS.Het1","x":25,"d":0.004},{"v":"IBS.WGS.Het1","x":33,"d":0.002},
{"v":"TSI.Array","x":8,"d":0.01},{"v":"TSI.Array","x":12,"d":0.08},{"v":"TSI.Array","x":16,"d":0.3},{"v":"TSI.Array","x":19,"d":0.4},{"v":"TSI.Array","x":22,"d":0.33},{"v":"TSI.Array","x":25,"d":0.13},{"v":"TSI.Array","x":28,"d":0.02},
{"v":"TSI.WGS.Het3","x":8,"d":0.01},{"v":"TSI.WGS.Het3","x":12,"d":0.08},{"v":"TSI.WGS.Het3","x":15,"d":0.27},{"v":"TSI.WGS.Het3","x":18,"d":0.4},{"v":"TSI.WGS.Het3","x":21,"d":0.35},{"v":"TSI.WGS.Het3","x":24,"d":0.16},{"v":"TSI.WGS.Het3","x":28,"d":0.04},{"v":"TSI.WGS.Het3","x":33,"d":0.01},{"v":"TSI.WGS.Het3","x":40,"d":0.004},
{"v":"TSI.WGS.Het2","x":3,"d":0.1},{"v":"TSI.WGS.Het2","x":6,"d":0.27},{"v":"TSI.WGS.Het2","x":9,"d":0.38},{"v":"TSI.WGS.Het2","x":11,"d":0.4},{"v":"TSI.WGS.Het2","x":14,"d":0.3},{"v":"TSI.WGS.Het2","x":18,"d":0.12},{"v":"TSI.WGS.Het2","x":22,"d":0.035},{"v":"TSI.WGS.Het2","x":30,"d":0.01},{"v":"TSI.WGS.Het2","x":46,"d":0.003},
{"v":"TSI.WGS.Het1","x":1,"d":0.3},{"v":"TSI.WGS.Het1","x":2,"d":0.4},{"v":"TSI.WGS.Het1","x":4,"d":0.3},{"v":"TSI.WGS.Het1","x":6,"d":0.1},{"v":"TSI.WGS.Het1","x":9,"d":0.03},{"v":"TSI.WGS.Het1","x":14,"d":0.008},{"v":"TSI.WGS.Het1","x":27,"d":0.002},
{"v":"ZUL.Array","x":8,"d":0.13},{"v":"ZUL.Array","x":10,"d":0.2},{"v":"ZUL.Array","x":13,"d":0.3},{"v":"ZUL.Array","x":16,"d":0.38},{"v":"ZUL.Array","x":18,"d":0.4},{"v":"ZUL.Array","x":20,"d":0.33},{"v":"ZUL.Array","x":22,"d":0.18},{"v":"ZUL.Array","x":24,"d":0.07},{"v":"ZUL.Array","x":26,"d":0.02},{"v":"ZUL.Array","x":27,"d":0.01},
{"v":"ZUL.WGS.Het3","x":6,"d":0.03},{"v":"ZUL.WGS.Het3","x":9,"d":0.1},{"v":"ZUL.WGS.Het3","x":12,"d":0.25},{"v":"ZUL.WGS.Het3","x":15,"d":0.37},{"v":"ZUL.WGS.Het3","x":17,"d":0.4},{"v":"ZUL.WGS.Het3","x":20,"d":0.35},{"v":"ZUL.WGS.Het3","x":23,"d":0.2},{"v":"ZUL.WGS.Het3","x":26,"d":0.08},{"v":"ZUL.WGS.Het3","x":28,"d":0.03},{"v":"ZUL.WGS.Het3","x":29,"d":0.02},
{"v":"ZUL.WGS.Het2","x":3,"d":0.02},{"v":"ZUL.WGS.Het2","x":6,"d":0.12},{"v":"ZUL.WGS.Het2","x":9,"d":0.3},{"v":"ZUL.WGS.Het2","x":11.5,"d":0.4},{"v":"ZUL.WGS.Het2","x":14,"d":0.38},{"v":"ZUL.WGS.Het2","x":17,"d":0.28},{"v":"ZUL.WGS.Het2","x":20,"d":0.13},{"v":"ZUL.WGS.Het2","x":23,"d":0.05},{"v":"ZUL.WGS.Het2","x":26,"d":0.015},{"v":"ZUL.WGS.Het2","x":27,"d":0.01},
{"v":"ZUL.WGS.Het1","x":2,"d":0.2},{"v":"ZUL.WGS.Het1","x":3.5,"d":0.32},{"v":"ZUL.WGS.Het1","x":5,"d":0.4},{"v":"ZUL.WGS.Het1","x":7,"d":0.33},{"v":"ZUL.WGS.Het1","x":9,"d":0.12},{"v":"ZUL.WGS.Het1","x":11,"d":0.04},{"v":"ZUL.WGS.Het1","x":14,"d":0.015},{"v":"ZUL.WGS.Het1","x":18,"d":0.005},
{"v":"BAG.Array","x":4,"d":0.03},{"v":"BAG.Array","x":6,"d":0.12},{"v":"BAG.Array","x":9,"d":0.3},{"v":"BAG.Array","x":12,"d":0.4},{"v":"BAG.Array","x":15,"d":0.36},{"v":"BAG.Array","x":18,"d":0.24},{"v":"BAG.Array","x":20,"d":0.15},{"v":"BAG.Array","x":22,"d":0.1},
{"v":"BAG.WGS.Het3","x":1,"d":0.005},{"v":"BAG.WGS.Het3","x":4,"d":0.05},{"v":"BAG.WGS.Het3","x":7,"d":0.15},{"v":"BAG.WGS.Het3","x":10,"d":0.3},{"v":"BAG.WGS.Het3","x":13,"d":0.4},{"v":"BAG.WGS.Het3","x":16,"d":0.35},{"v":"BAG.WGS.Het3","x":19,"d":0.2},{"v":"BAG.WGS.Het3","x":22,"d":0.08},{"v":"BAG.WGS.Het3","x":25,"d":0.03},{"v":"BAG.WGS.Het3","x":26,"d":0.02},
{"v":"BAG.WGS.Het2","x":2,"d":0.04},{"v":"BAG.WGS.Het2","x":5,"d":0.15},{"v":"BAG.WGS.Het2","x":8,"d":0.33},{"v":"BAG.WGS.Het2","x":10,"d":0.4},{"v":"BAG.WGS.Het2","x":12.5,"d":0.35},{"v":"BAG.WGS.Het2","x":15,"d":0.2},{"v":"BAG.WGS.Het2","x":18,"d":0.07},{"v":"BAG.WGS.Het2","x":20,"d":0.03},{"v":"BAG.WGS.Het2","x":22,"d":0.02},
{"v":"BAG.WGS.Het1","x":1,"d":0.22},{"v":"BAG.WGS.Het1","x":2.5,"d":0.33},{"v":"BAG.WGS.Het1","x":4,"d":0.4},{"v":"BAG.WGS.Het1","x":6,"d":0.38},{"v":"BAG.WGS.Het1","x":8,"d":0.25},{"v":"BAG.WGS.Het1","x":10,"d":0.1},{"v":"BAG.WGS.Het1","x":12,"d":0.03},{"v":"BAG.WGS.Het1","x":15,"d":0.01},
{"v":"LWK.Array","x":4,"d":0.02},{"v":"LWK.Array","x":7,"d":0.15},{"v":"LWK.Array","x":10,"d":0.35},{"v":"LWK.Array","x":12,"d":0.4},{"v":"LWK.Array","x":14,"d":0.36},{"v":"LWK.Array","x":16,"d":0.22},{"v":"LWK.Array","x":18,"d":0.09},{"v":"LWK.Array","x":20,"d":0.03},{"v":"LWK.Array","x":21,"d":0.01},
{"v":"LWK.WGS.Het3","x":3,"d":0.02},{"v":"LWK.WGS.Het3","x":6,"d":0.14},{"v":"LWK.WGS.Het3","x":9,"d":0.34},{"v":"LWK.WGS.Het3","x":11,"d":0.4},{"v":"LWK.WGS.Het3","x":13,"d":0.35},{"v":"LWK.WGS.Het3","x":15,"d":0.22},{"v":"LWK.WGS.Het3","x":17,"d":0.12},{"v":"LWK.WGS.Het3","x":18,"d":0.1},
{"v":"LWK.WGS.Het2","x":3,"d":0.12},{"v":"LWK.WGS.Het2","x":5,"d":0.3},{"v":"LWK.WGS.Het2","x":7,"d":0.4},{"v":"LWK.WGS.Het2","x":9,"d":0.37},{"v":"LWK.WGS.Het2","x":11,"d":0.25},{"v":"LWK.WGS.Het2","x":13,"d":0.12},{"v":"LWK.WGS.Het2","x":15,"d":0.05},{"v":"LWK.WGS.Het2","x":18,"d":0.02},
{"v":"LWK.WGS.Het1","x":1,"d":0.3},{"v":"LWK.WGS.Het1","x":2,"d":0.37},{"v":"LWK.WGS.Het1","x":3,"d":0.4},{"v":"LWK.WGS.Het1","x":5,"d":0.3},{"v":"LWK.WGS.Het1","x":7,"d":0.1},{"v":"LWK.WGS.Het1","x":9,"d":0.03},{"v":"LWK.WGS.Het1","x":11,"d":0.01},
{"v":"YRI.Array","x":3,"d":0.04},{"v":"YRI.Array","x":6,"d":0.2},{"v":"YRI.Array","x":9,"d":0.4},{"v":"YRI.Array","x":11,"d":0.38},{"v":"YRI.Array","x":14,"d":0.25},{"v":"YRI.Array","x":17,"d":0.12},{"v":"YRI.Array","x":19,"d":0.06},{"v":"YRI.Array","x":20,"d":0.05},
{"v":"YRI.WGS.Het3","x":1,"d":0.03},{"v":"YRI.WGS.Het3","x":4,"d":0.2},{"v":"YRI.WGS.Het3","x":7,"d":0.4},{"v":"YRI.WGS.Het3","x":10,"d":0.37},{"v":"YRI.WGS.Het3","x":13,"d":0.24},{"v":"YRI.WGS.Het3","x":16,"d":0.1},{"v":"YRI.WGS.Het3","x":18,"d":0.04},{"v":"YRI.WGS.Het3","x":19,"d":0.03},
{"v":"YRI.WGS.Het2","x":1,"d":0.15},{"v":"YRI.WGS.Het2","x":3,"d":0.3},{"v":"YRI.WGS.Het2","x":5,"d":0.4},{"v":"YRI.WGS.Het2","x":7,"d":0.36},{"v":"YRI.WGS.Het2","x":10,"d":0.2},{"v":"YRI.WGS.Het2","x":13,"d":0.09},{"v":"YRI.WGS.Het2","x":15,"d":0.04},{"v":"YRI.WGS.Het2","x":17,"d":0.015},{"v":"YRI.WGS.Het2","x":19,"d":0.01},
{"v":"YRI.WGS.Het1","x":1,"d":0.35},{"v":"YRI.WGS.Het1","x":2,"d":0.4},{"v":"YRI.WGS.Het1","x":3,"d":0.3},{"v":"YRI.WGS.Het1","x":5,"d":0.12},{"v":"YRI.WGS.Het1","x":7,"d":0.04},{"v":"YRI.WGS.Het1","x":10,"d":0.015},{"v":"YRI.WGS.Het1","x":13,"d":0.008},{"v":"YRI.WGS.Het1","x":17,"d":0.004}
]},
"concat":[
{"width":393,"height":412,"layer":[
{"data":{"name":"sh"},"transform":[{"lookup":"v","from":{"data":{"name":"st"},"key":"v","fields":["p","s","c"]}},{"filter":"datum.p==1"},{"calculate":"datum.s-datum.d","as":"lo"},{"calculate":"datum.s+datum.d","as":"hi"}],
"mark":{"type":"area","interpolate":"monotone","stroke":"#555","strokeWidth":0.7,"opacity":1},
"encoding":{"x":{"field":"x","type":"quantitative","scale":{"domain":[-4.5,147.6],"nice":false,"zero":false},"axis":{"values":[0,20,40,60,80,100,120,140],"title":"N° ROH"}},
"y":{"field":"lo","type":"quantitative","scale":{"domain":[-2.2,30.16],"reverse":true,"nice":false,"zero":false},"axis":{"title":null,"labelOverlap":false,"tickCount":100,"values":[0,1,2,3,5,6,7,8,10,11,12,13,15,16,17,18,20,21,22,23,25,26,27,28],"labelExpr":"['ACB.Array','ACB.WGS.Het3','ACB.WGS.Het2','ACB.WGS.Het1','','ASW.Array','ASW.WGS.Het3','ASW.WGS.Het2','ASW.WGS.Het1','','PUR.Array','PUR.WGS.Het3','PUR.WGS.Het2','PUR.WGS.Het1','','CLM.Array','CLM.WGS.Het3','CLM.WGS.Het2','CLM.WGS.Het1','','MXL.Array','MXL.WGS.Het3','MXL.WGS.Het2','MXL.WGS.Het1','','PEL.Array','PEL.WGS.Het3','PEL.WGS.Het2','PEL.WGS.Het1'][datum.value]"}},
"y2":{"field":"hi"},"detail":{"field":"v"},
"color":{"field":"c","type":"nominal","legend":null,"scale":{"domain":["Adm Array","Adm Het3","Adm Het2","Adm Het1","PEL Array","PEL Het3","PEL Het2","PEL Het1","Asia Array","Asia Het3","Asia Het2","Asia Het1","Eur Array","Eur Het3","Eur Het2","Eur Het1","Afr Array","Afr Het3","Afr Het2","Afr Het1"],"range":["#6b2416","#c8422c","#e9533b","#f76549","#4e7a0c","#88c21f","#a9e22e","#c0f53c","#7a4b1e","#c9792f","#ee9641","#f8a44b","#7b4533","#c27452","#ee9b73","#f8a27d","#00777a","#00aeb5","#00e0e9","#00f5fe"]}}}},
{"data":{"name":"st"},"transform":[{"filter":"datum.p==1"}],"mark":{"type":"rule","color":"black","strokeWidth":0.8},"encoding":{"x":{"field":"wl","type":"quantitative","title":"N° ROH"},"x2":{"field":"wh"},"y":{"field":"s","type":"quantitative","title":null}}},
{"data":{"name":"st"},"transform":[{"filter":"datum.p==1"}],"mark":{"type":"rule","color":"black","strokeWidth":2.8,"strokeCap":"butt"},"encoding":{"x":{"field":"q1","type":"quantitative","title":"N° ROH"},"x2":{"field":"q3"},"y":{"field":"s","type":"quantitative","title":null}}},
{"data":{"name":"st"},"transform":[{"filter":"datum.p==1"}],"mark":{"type":"point","filled":true,"color":"white","size":12,"opacity":1,"strokeWidth":0},"encoding":{"x":{"field":"md","type":"quantitative","title":"N° ROH"},"y":{"field":"s","type":"quantitative","title":null}}}
]},
{"width":394,"height":412,"layer":[
{"data":{"name":"sh"},"transform":[{"lookup":"v","from":{"data":{"name":"st"},"key":"v","fields":["p","s","c"]}},{"filter":"datum.p==2"},{"calculate":"datum.s-datum.d","as":"lo"},{"calculate":"datum.s+datum.d","as":"hi"}],
"mark":{"type":"area","interpolate":"monotone","stroke":"#555","strokeWidth":0.7,"opacity":1},
"encoding":{"x":{"field":"x","type":"quantitative","scale":{"domain":[-3.7,120.6],"nice":false,"zero":false},"axis":{"values":[0,20,40,60,80,100,120],"title":"N° ROH"}},
"y":{"field":"lo","type":"quantitative","scale":{"domain":[-0.94,24.93],"reverse":true,"nice":false,"zero":false},"axis":{"title":null,"labelOverlap":false,"tickCount":100,"values":[0,1,2,3,5,6,7,8,10,11,12,13,15,16,17,18,20,21,22,23],"labelExpr":"['CDX.Array','CDX.WGS.Het3','CDX.WGS.Het2','CDX.WGS.Het1','','CHB.Array','CHB.WGS.Het3','CHB.WGS.Het2','CHB.WGS.Het1','','CHS.Array','CHS.WGS.Het3','CHS.WGS.Het2','CHS.WGS.Het1','','JPT.Array','JPT.WGS.Het3','JPT.WGS.Het2','JPT.WGS.Het1','','KHV.Array','KHV.WGS.Het3','KHV.WGS.Het2','KHV.WGS.Het1'][datum.value]"}},
"y2":{"field":"hi"},"detail":{"field":"v"},
"color":{"field":"c","type":"nominal","legend":null}}},
{"data":{"name":"st"},"transform":[{"filter":"datum.p==2"}],"mark":{"type":"rule","color":"black","strokeWidth":0.8},"encoding":{"x":{"field":"wl","type":"quantitative","title":"N° ROH"},"x2":{"field":"wh"},"y":{"field":"s","type":"quantitative","title":null}}},
{"data":{"name":"st"},"transform":[{"filter":"datum.p==2"}],"mark":{"type":"rule","color":"black","strokeWidth":2.8,"strokeCap":"butt"},"encoding":{"x":{"field":"q1","type":"quantitative","title":"N° ROH"},"x2":{"field":"q3"},"y":{"field":"s","type":"quantitative","title":null}}},
{"data":{"name":"st"},"transform":[{"filter":"datum.p==2"}],"mark":{"type":"point","filled":true,"color":"white","size":12,"opacity":1,"strokeWidth":0},"encoding":{"x":{"field":"md","type":"quantitative","title":"N° ROH"},"y":{"field":"s","type":"quantitative","title":null}}}
]},
{"width":393,"height":412,"layer":[
{"data":{"name":"sh"},"transform":[{"lookup":"v","from":{"data":{"name":"st"},"key":"v","fields":["p","s","c"]}},{"filter":"datum.p==3"},{"calculate":"datum.s-datum.d","as":"lo"},{"calculate":"datum.s+datum.d","as":"hi"}],
"mark":{"type":"area","interpolate":"monotone","stroke":"#555","strokeWidth":0.7,"opacity":1},
"encoding":{"x":{"field":"x","type":"quantitative","scale":{"domain":[-1.04,55.08],"nice":false,"zero":false},"axis":{"values":[0,10,20,30,40,50],"title":"N° ROH"}},
"y":{"field":"lo","type":"quantitative","scale":{"domain":[-1.96,24.98],"reverse":true,"nice":false,"zero":false},"axis":{"title":null,"labelOverlap":false,"tickCount":100,"values":[0,1,2,3,5,6,7,8,10,11,12,13,15,16,17,18,20,21,22,23],"labelExpr":"['FIN.Array','FIN.WGS.Het3','FIN.WGS.Het2','FIN.WGS.Het1','','GBR.Array','GBR.WGS.Het3','GBR.WGS.Het2','GBR.WGS.Het1','','CEU.Array','CEU.WGS.Het3','CEU.WGS.Het2','CEU.WGS.Het1','','IBS.Array','IBS.WGS.Het3','IBS.WGS.Het2','IBS.WGS.Het1','','TSI.Array','TSI.WGS.Het3','TSI.WGS.Het2','TSI.WGS.Het1'][datum.value]"}},
"y2":{"field":"hi"},"detail":{"field":"v"},
"color":{"field":"c","type":"nominal","legend":null}}},
{"data":{"name":"st"},"transform":[{"filter":"datum.p==3"}],"mark":{"type":"rule","color":"black","strokeWidth":0.8},"encoding":{"x":{"field":"wl","type":"quantitative","title":"N° ROH"},"x2":{"field":"wh"},"y":{"field":"s","type":"quantitative","title":null}}},
{"data":{"name":"st"},"transform":[{"filter":"datum.p==3"}],"mark":{"type":"rule","color":"black","strokeWidth":2.8,"strokeCap":"butt"},"encoding":{"x":{"field":"q1","type":"quantitative","title":"N° ROH"},"x2":{"field":"q3"},"y":{"field":"s","type":"quantitative","title":null}}},
{"data":{"name":"st"},"transform":[{"filter":"datum.p==3"}],"mark":{"type":"point","filled":true,"color":"white","size":12,"opacity":1,"strokeWidth":0},"encoding":{"x":{"field":"md","type":"quantitative","title":"N° ROH"},"y":{"field":"s","type":"quantitative","title":null}}}
]},
{"width":394,"height":412,"layer":[
{"data":{"name":"sh"},"transform":[{"lookup":"v","from":{"data":{"name":"st"},"key":"v","fields":["p","s","c"]}},{"filter":"datum.p==4"},{"calculate":"datum.s-datum.d","as":"lo"},{"calculate":"datum.s+datum.d","as":"hi"}],
"mark":{"type":"area","interpolate":"monotone","stroke":"#555","strokeWidth":0.7,"opacity":1},
"encoding":{"x":{"field":"x","type":"quantitative","scale":{"domain":[-0.1,30.2],"nice":false,"zero":false},"axis":{"values":[0,5,10,15,20,25,30],"title":"N° ROH"}},
"y":{"field":"lo","type":"quantitative","scale":{"domain":[-0.73,19.74],"reverse":true,"nice":false,"zero":false},"axis":{"title":null,"labelOverlap":false,"tickCount":100,"values":[0,1,2,3,5,6,7,8,10,11,12,13,15,16,17,18],"labelExpr":"['ZUL.Array','ZUL.WGS.Het3','ZUL.WGS.Het2','ZUL.WGS.Het1','','BAG.Array','BAG.WGS.Het3','BAG.WGS.Het2','BAG.WGS.Het1','','LWK.Array','LWK.WGS.Het3','LWK.WGS.Het2','LWK.WGS.Het1','','YRI.Array','YRI.WGS.Het3','YRI.WGS.Het2','YRI.WGS.Het1'][datum.value]"}},
"y2":{"field":"hi"},"detail":{"field":"v"},
"color":{"field":"c","type":"nominal","legend":null}}},
{"data":{"name":"st"},"transform":[{"filter":"datum.p==4"}],"mark":{"type":"rule","color":"black","strokeWidth":0.8},"encoding":{"x":{"field":"wl","type":"quantitative","title":"N° ROH"},"x2":{"field":"wh"},"y":{"field":"s","type":"quantitative","title":null}}},
{"data":{"name":"st"},"transform":[{"filter":"datum.p==4"}],"mark":{"type":"rule","color":"black","strokeWidth":2.8,"strokeCap":"butt"},"encoding":{"x":{"field":"q1","type":"quantitative","title":"N° ROH"},"x2":{"field":"q3"},"y":{"field":"s","type":"quantitative","title":null}}},
{"data":{"name":"st"},"transform":[{"filter":"datum.p==4"}],"mark":{"type":"point","filled":true,"color":"white","size":12,"opacity":1,"strokeWidth":0},"encoding":{"x":{"field":"md","type":"quantitative","title":"N° ROH"},"y":{"field":"s","type":"quantitative","title":null}}}
]}
],
"columns":2,"spacing":{"row":47,"column":59},"bounds":"flush","resolve":{"scale":{"x":"independent","y":"independent","color":"shared"}}
}
